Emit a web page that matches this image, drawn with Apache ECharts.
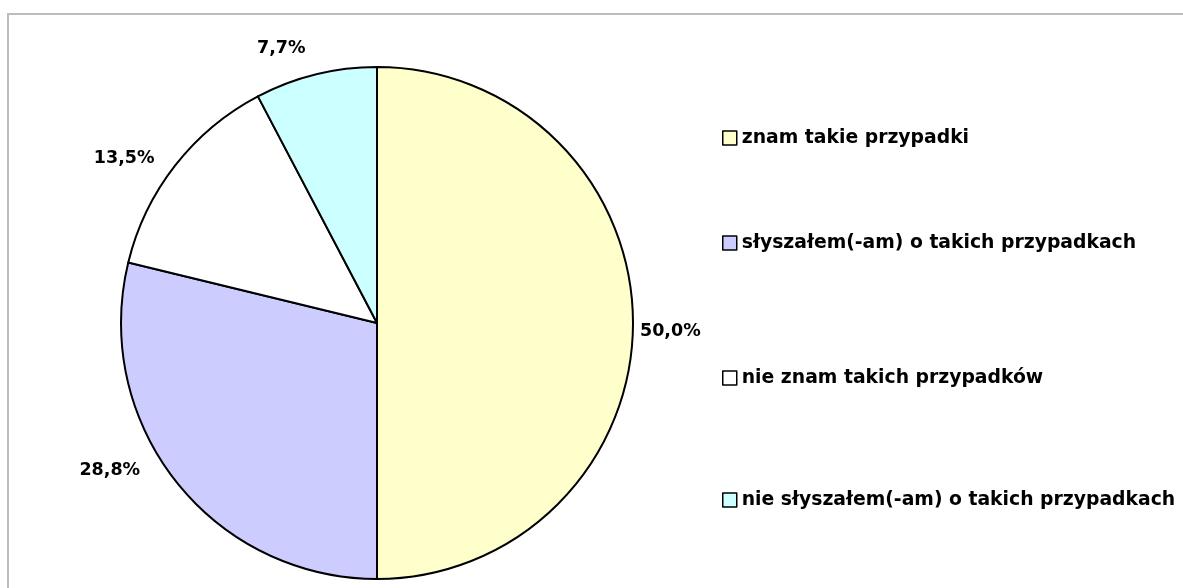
<!DOCTYPE html>
<html>
<head>
<meta charset="utf-8">
<script src="https://cdn.jsdelivr.net/npm/echarts@6/dist/echarts.min.js"></script>
<style>
  html, body { margin: 0; padding: 0; background: #fff; }
  #chart { width: 1183px; height: 588px; }
</style>
</head>
<body>
<div id="chart"></div>
<script>
(function () {
  var categories = ['znam takie przypadki', 'słyszałem(-am) o takich przypadkach', 'nie znam takich przypadków', 'nie słyszałem(-am) o takich przypadkach'];
  var values = [50.0, 28.8, 13.5, 7.7];
  var colors = ['#ffffcc', '#ccccff', '#ffffff', '#ccffff'];
  var legendTops = [128, 233, 368, 490]; // pozycje legendy
  var labelShift = [[-28, 8], [-7, -29], [8, 11], [2, 3]]; // przesunięcia etykiet

  var font = '"DejaVu Sans", sans-serif';
  var myChart = echarts.init(document.getElementById('chart'));

  var pieData = categories.map(function (name, i) {
    return { name: name, value: values[i], itemStyle: { color: colors[i] } };
  });

  var legends = categories.map(function (name, i) {
    return {
      data: [name],
      orient: 'vertical',
      left: 722,
      top: legendTops[i],
      padding: 0,
      icon: 'rect',
      itemWidth: 14,
      itemHeight: 14,
      selectedMode: false,
      itemStyle: { borderColor: '#000', borderWidth: 1.5 },
      textStyle: { fontFamily: font, fontWeight: 'bold', fontSize: 18.8, lineHeight: 20, color: '#000' }
    };
  });

  var option = {
    animation: false,
    backgroundColor: '#fff',
    graphic: [{
      type: 'rect',
      shape: { x: 8, y: 14, width: 1300, height: 700 },
      style: { fill: 'none', stroke: '#bdbdbd', lineWidth: 2 },
      silent: true
    }],
    legend: legends,
    series: [{
      type: 'pie',
      center: [377, 323],
      radius: 256,
      startAngle: 90,
      clockwise: true,
      avoidLabelOverlap: false,
      data: pieData,
      itemStyle: { borderColor: '#000', borderWidth: 2 },
      label: {
        show: true,
        position: 'outside',
        formatter: function (p) { return p.value.toFixed(1).replace('.', ',') + '%'; },
        fontFamily: font,
        fontWeight: 'bold',
        fontSize: 17.5,
        color: '#000'
      },
      labelLine: { show: false, length: 30, length2: 0 },
      labelLayout: function (p) {
        var s = labelShift[p.dataIndex];
        return { dx: s[0], dy: s[1] };
      }
    }]
  };

  myChart.setOption(option);
  window.addEventListener('resize', function () {
    myChart.resize();
  });
})();
</script>
</body>
</html>
